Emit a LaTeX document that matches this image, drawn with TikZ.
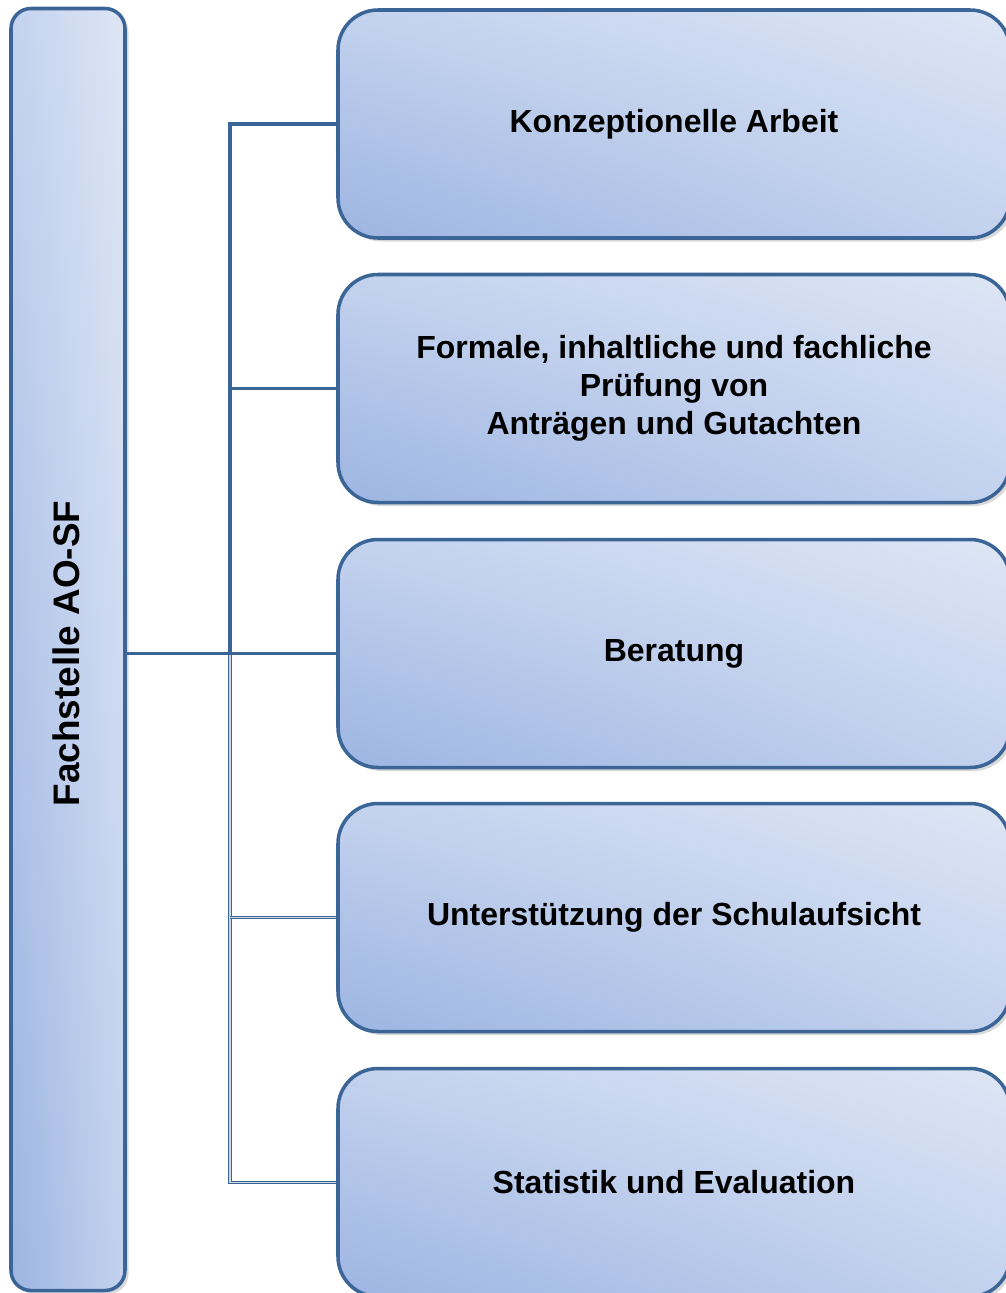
\documentclass[tikz,border=0pt]{standalone}
\usepackage{fontspec}
\setmainfont{Liberation Sans}
\usetikzlibrary{positioning,shadows,shadings}

\definecolor{boxline}{RGB}{59,100,151}
\definecolor{boxlight}{RGB}{222,230,245}
\definecolor{boxmid}{RGB}{195,210,238}
\definecolor{boxdark}{RGB}{157,181,226}

\tikzset{
  boxfill/.style={upper right=boxlight, upper left=boxmid, lower right=boxmid,
    lower left=boxdark,
    drop shadow={opacity=0.3, shadow xshift=0.07cm, shadow yshift=-0.07cm}},
  task/.style={boxfill, rounded corners=0.8cm, draw=boxline, line width=2pt,
    minimum width=13.44cm, minimum height=4.56cm, align=center,
    font=\bfseries\fontsize{18.2}{21.5}\selectfont},
  head/.style={boxfill, rounded corners=0.4cm, draw=boxline, line width=2pt,
    minimum width=2.28cm, minimum height=25.64cm},
  link/.style={draw=boxline, line width=2.2pt},
  thinlink/.style={draw=boxline, line width=0.8pt, double=white!75!boxline, double distance=0.6pt}
}

\begin{document}
\begin{tikzpicture}
  \useasboundingbox (0,0) rectangle (20.12,-25.86);

  % Fachstelle
  \node[head] (root) at (1.36,-12.99) {};
  \node[rotate=90, font=\bfseries\fontsize{21}{25}\selectfont] (rootlabel) at (1.33,-13.07) {Fachstelle AO-SF};

  % Aufgaben
  \node[task] (b1) at (13.48,-2.48) {Konzeptionelle Arbeit};
  \node[task] (b2) at (13.48,-7.77) {Formale, inhaltliche und fachliche\\Prüfung von\\Anträgen und Gutachten};
  \node[task] (b3) at (13.48,-13.07) {Beratung};
  \node[task] (b4) at (13.48,-18.35) {Unterstützung der Schulaufsicht};
  \node[task] (b5) at (13.48,-23.65) {Statistik und Evaluation};

  % Verbindungen
  \coordinate (hub) at (4.6,-13.07);
  \draw[thinlink] (hub) -- (hub |- b5.west) -- (b5.west);
  \draw[thinlink] (b4.west) -- (hub |- b4.west);
  \draw[link] (b1.west) -| (hub);
  \draw[link] (b2.west) -- (hub |- b2.west);
  \draw[link] (root.east |- b3.west) -- (b3.west);
\end{tikzpicture}
\end{document}
